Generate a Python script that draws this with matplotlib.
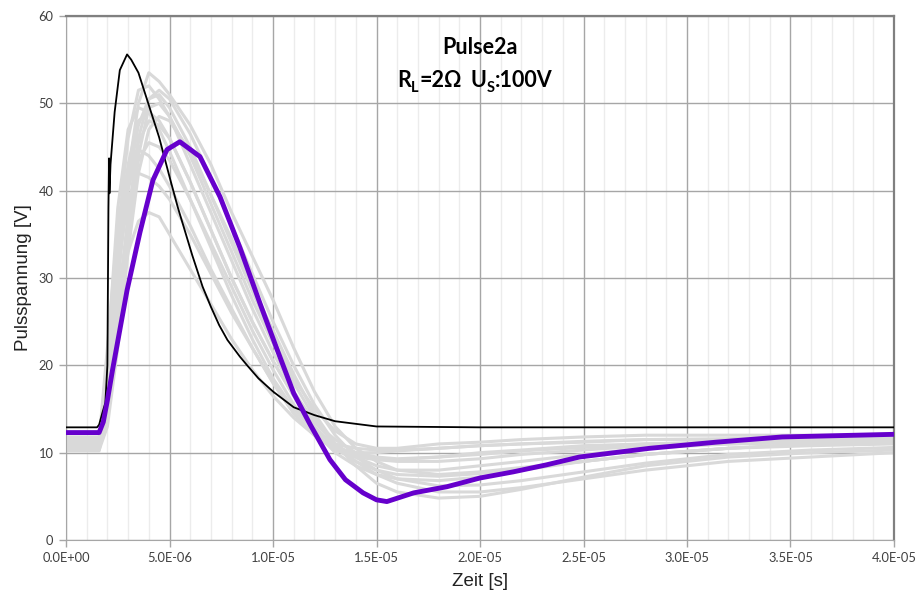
import numpy as np
import matplotlib
matplotlib.use("Agg")
import matplotlib.pyplot as plt
from matplotlib.ticker import MultipleLocator, FuncFormatter

# ---------------- data (time in microseconds, voltage in V) ----------------
t_black = [0, 1.5, 1.6, 1.75, 1.9, 2.0, 2.05, 2.08, 2.1, 2.15, 2.35, 2.6, 2.95, 3.15,
           3.5, 4.0, 4.5, 5.0, 5.4, 6.1, 6.6, 7.0, 7.4, 7.8, 8.4, 8.75, 9.3, 10.0, 11.0, 12.0,
           13.0, 14.0, 15.0, 20.0, 25.0, 30.0, 35.0, 40.0]
v_black = [12.9, 12.9, 13.2, 14.5, 15.7, 20.0, 38.0, 43.7, 39.7, 43.0, 49.0, 53.8, 55.6, 55.0,
           53.5, 49.8, 46.1, 41.6, 38.1, 32.6, 29.0, 26.7, 24.6, 22.9, 21.0, 20.0, 18.5, 17.0,
           15.2, 14.3, 13.6, 13.3, 13.0, 12.9, 12.9, 12.9, 12.9, 12.9]

t_purple = [0, 1.6, 1.8, 2.0, 2.25, 2.95, 3.57, 4.2, 4.88, 5.5, 6.47, 7.44, 8.4, 9.37,
            10.2, 11.0, 11.8, 12.75, 13.5, 14.35, 15.0, 15.5, 16.8, 18.4, 20.0, 21.6,
            23.2, 24.8, 28.2, 31.4, 34.6, 40.0]
v_purple = [12.3, 12.3, 13.5, 16.0, 19.5, 28.6, 35.2, 41.2, 44.7, 45.6, 43.9, 39.3, 33.5, 27.1,
            21.8, 16.8, 13.2, 9.2, 6.9, 5.4, 4.6, 4.4, 5.4, 6.1, 7.1, 7.8,
            8.6, 9.5, 10.5, 11.2, 11.8, 12.1]

t_gray = [0, 1.6, 2.0, 2.5, 3.0, 3.5, 4.0, 4.5, 5.0, 6.0, 7.0, 8.0, 9.0, 10.0, 11.0, 12.0,
          13.0, 14.0, 15.0, 16.0, 18.0, 20.0, 22.0, 25.0, 28.0, 32.0, 36.0, 40.0]
gray_1 = [11.0, 11.0, 16, 29, 42, 50, 53.5, 52.5, 51, 47.5, 43, 37.5, 32.5, 27.5, 22, 17,
          13, 10.5, 9, 8, 7.5, 7.8, 8.3, 9, 9.8, 10.5, 11, 11.2]
gray_2 = [11.5, 11.5, 20, 35, 46, 51.5, 52, 50.5, 48.5, 43, 37.5, 32, 26.5, 21.5, 17, 13.5,
          11, 9.5, 8.5, 8, 8, 8.5, 9, 9.8, 10.5, 11, 11.2, 11.5]
gray_3 = [10.5, 10.5, 14, 24, 35, 44, 49.5, 50, 48.5, 44, 38.5, 33, 27.5, 22.5, 18, 14,
          11, 9, 7.5, 6.5, 5.5, 5.5, 6, 7, 8, 9, 9.5, 10]
gray_4 = [11.8, 11.8, 17, 30, 41, 47.5, 50.5, 51, 49.5, 45, 39.5, 34, 28.5, 23, 18.5, 15,
          12.5, 11, 10.5, 10.5, 11, 11.2, 11.5, 11.8, 12, 12, 12, 12]
gray_5 = [11.0, 11.0, 18, 31, 40, 45.5, 48, 47.5, 46, 41, 35.5, 30, 25, 20.5, 16.5, 13.5,
          11.5, 10, 9.5, 9.3, 9.5, 10, 10.3, 10.8, 11, 11.2, 11.5, 11.5]
gray_6 = [10.2, 10.2, 15, 27, 37, 43.5, 45.5, 45, 43.5, 39, 34, 29, 24, 19.5, 15.5, 12.5,
          10, 8.5, 7.5, 7, 6.8, 7.2, 8, 9, 9.8, 10.5, 10.8, 11]
gray_7 = [11.5, 11.5, 22, 36, 42.5, 44.7, 44, 42.5, 40.5, 36, 31, 26.5, 22, 18, 14.5, 12,
          10.5, 10, 10, 10.2, 10.5, 10.8, 11, 11.2, 11.5, 11.5, 11.8, 11.8]
gray_8 = [10.5, 10.5, 16, 26, 33, 36.5, 37.5, 37, 35, 31, 27, 23, 19.5, 16.5, 14, 12,
          10.5, 9.8, 9.2, 9, 9, 9.3, 9.8, 10.3, 10.8, 11, 11.2, 11.3]
gray_9 = [11.2, 11.2, 19, 33, 43, 48, 49, 48, 46, 41, 35.5, 30, 25, 20.5, 16.5, 13,
          10.5, 9, 8, 7.5, 7.3, 7.6, 8.2, 9, 9.8, 10.5, 11, 11.2]
gray_10 = [10.8, 10.8, 18, 31, 39, 42, 41.5, 40.5, 39, 35, 30.5, 26, 22, 18, 14.5, 12,
           10.3, 9.5, 9.2, 9.2, 9.5, 9.8, 10.2, 10.6, 11, 11.2, 11.3, 11.5]
gray_11 = [10.5, 10.5, 14, 25, 37, 46, 50.5, 51.5, 50.5, 46.5, 41.5, 36, 30.5, 25, 20, 15.5,
           12, 9.5, 8, 7, 6.2, 6.3, 6.8, 7.8, 8.8, 9.8, 10.3, 10.6]
gray_12 = [11.0, 11.0, 21, 38, 47, 49.5, 49, 47, 44.5, 39, 33.5, 28, 23, 18.5, 15, 12.5,
           11, 10.5, 10.3, 10.3, 10.5, 10.8, 11, 11.3, 11.5, 11.6, 11.8, 12]
gray_13 = [10.3, 10.3, 13, 22, 33, 42, 47, 48.5, 48, 44.5, 39.5, 34.5, 29, 24, 19, 14.5,
           11, 8.5, 6.5, 5.5, 4.8, 5, 5.8, 7.2, 8.5, 9.5, 10, 10.3]
gray_traces = [gray_1, gray_2, gray_3, gray_4, gray_5, gray_6, gray_7,
               gray_8, gray_9, gray_10, gray_11, gray_12, gray_13]

x_ticks = [0, 5e-6, 1e-5, 1.5e-5, 2e-5, 2.5e-5, 3e-5, 3.5e-5, 4e-5]
y_ticks = [0, 10, 20, 30, 40, 50, 60]

# ---------------- figure ----------------
fig = plt.figure(figsize=(9.21, 5.97), dpi=100)
ax = fig.add_axes([66 / 921, 1 - 540 / 597, (894 - 66) / 921, (540 - 16) / 597])

us = 1e-6
for g in gray_traces:
    ax.plot(np.array(t_gray) * us, g, color="#d9d9d9", lw=2.2, zorder=2,
            solid_joinstyle="round")
ax.plot(np.array(t_black) * us, v_black, color="black", lw=1.3, zorder=3)
ax.plot(np.array(t_purple) * us, v_purple, color="#6600cc", lw=3.5, zorder=4)

ax.set_xlim(0, 4e-5)
ax.set_ylim(0, 60)
ax.set_xticks(x_ticks)
ax.set_yticks(y_ticks)
ax.xaxis.set_minor_locator(MultipleLocator(1e-6))
ax.xaxis.set_major_formatter(FuncFormatter(lambda v, p: "%.1E" % v))

ax.grid(True, which="major", axis="both", color="#a6a6a6", lw=1.0, zorder=1)
ax.grid(True, which="minor", axis="x", color="#ececec", lw=1.0, zorder=0)
ax.set_axisbelow(True)
ax.tick_params(axis="x", which="minor", length=0)
ax.tick_params(axis="both", which="major", direction="out", length=5, width=1,
               color="#a6a6a6", labelcolor="#404040", labelsize=9.3, pad=4)
for lab in ax.get_xticklabels() + ax.get_yticklabels():
    lab.set_family(["Lato", "DejaVu Sans"])

ax.spines["left"].set_color("#a6a6a6")
ax.spines["bottom"].set_color("#a6a6a6")
ax.spines["top"].set_color("#808080")
ax.spines["right"].set_color("#808080")
ax.spines["top"].set_linewidth(1.6)
ax.spines["right"].set_linewidth(1.6)

ax.set_xlabel("Zeit [s]", fontsize=13.5, family=["Liberation Sans", "DejaVu Sans"],
              labelpad=6, color="#222222")
ax.set_ylabel("Pulsspannung [V]", fontsize=13.5, family=["Liberation Sans", "DejaVu Sans"],
              labelpad=5, color="#222222")

# ---------------- annotation ----------------
fam = ["Lato", "DejaVu Sans"]
tfs = 15.5
sfs = 10.5
ax.text(2.0e-5, 56.4, "Pulse2a", ha="center", va="center", fontsize=tfs,
        fontweight="bold", family=fam, zorder=6)
t1 = ax.text((397 - 66) / 20.7 * us, 51.4, "R", ha="left", va="bottom", fontsize=tfs,
             fontweight="bold", family=fam, zorder=6)
t2 = ax.annotate("L", xy=(1, 0), xycoords=t1, xytext=(0.3, -3), textcoords="offset points",
                 ha="left", va="bottom", fontsize=sfs, fontweight="bold", family=fam, zorder=6)
t3 = ax.annotate("=2Ω", xy=(1, 0), xycoords=t2, xytext=(0.3, 3), textcoords="offset points",
                 ha="left", va="bottom", fontsize=tfs, fontweight="bold", family=fam, zorder=6)
u1 = ax.text((470 - 66) / 20.7 * us, 51.4, "U", ha="left", va="bottom", fontsize=tfs,
             fontweight="bold", family=fam, zorder=6)
u2 = ax.annotate("S", xy=(1, 0), xycoords=u1, xytext=(0.3, -3), textcoords="offset points",
                 ha="left", va="bottom", fontsize=sfs, fontweight="bold", family=fam, zorder=6)
u3 = ax.annotate(":100V", xy=(1, 0), xycoords=u2, xytext=(0.3, 3), textcoords="offset points",
                 ha="left", va="bottom", fontsize=tfs, fontweight="bold", family=fam, zorder=6)

fig.savefig("out.png", dpi=100, facecolor="white")
